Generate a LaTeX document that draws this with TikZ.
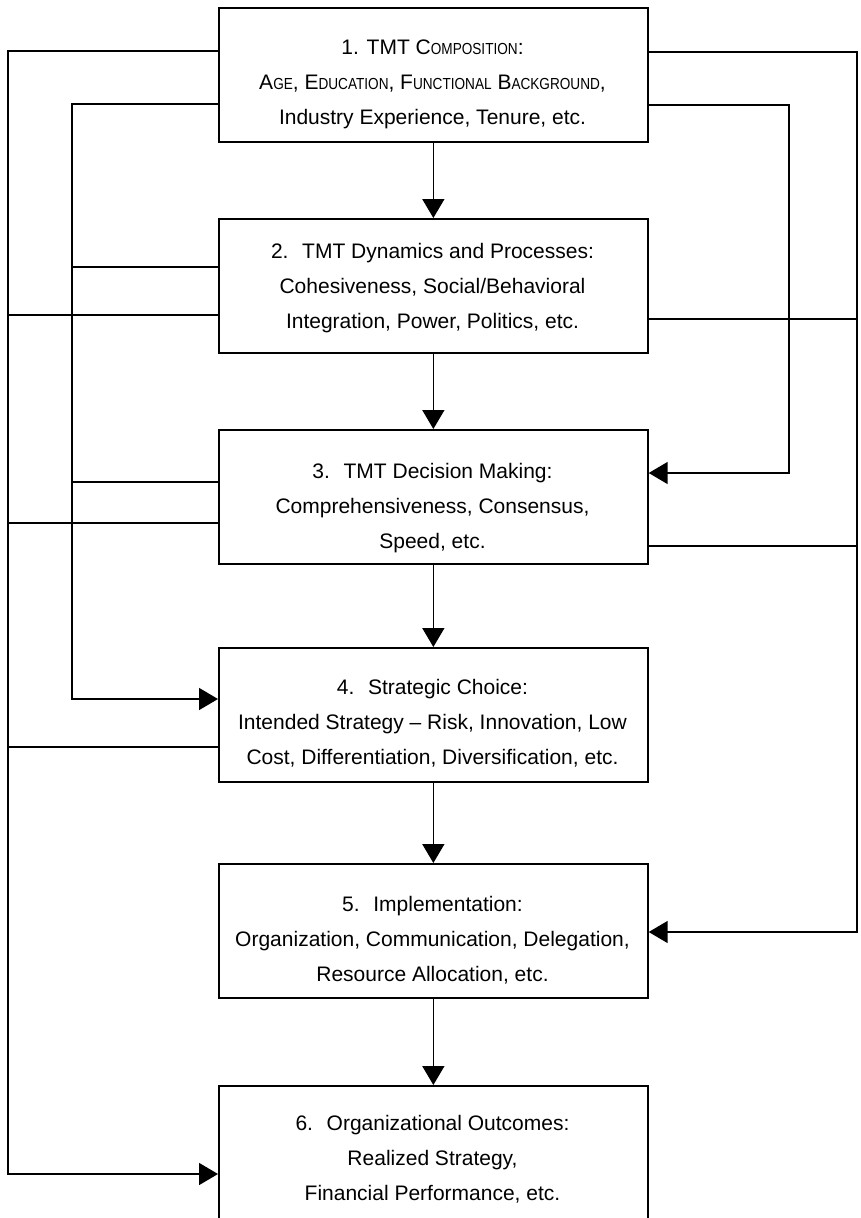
\documentclass[tikz,border=0pt]{standalone}
\usepackage{fontspec}
\setmainfont{Liberation Sans}
\usepackage{graphicx}
\usetikzlibrary{arrows.meta,calc}
\newcommand{\smc}[1]{\scalebox{0.85}[1]{\fontsize{16}{35}\selectfont #1}}
\begin{document}
\begin{tikzpicture}[x=1pt,y=-1pt,line width=1.6pt,
  box/.style={draw,line width=1.7pt,minimum width=429pt,minimum height=134pt,inner sep=0pt,anchor=north west},
  txt/.style={align=center,inner sep=0pt,font=\fontsize{21}{35}\selectfont},
  arr/.style={-{Triangle[length=19pt,width=22pt]}}]
\useasboundingbox (0,0) rectangle (860,1218);
% boxes
\node[box] (b1) at (218,7) {};
\node[box] (b2) at (218,218) {};
\node[box] (b3) at (218,429) {};
\node[box] (b4) at (218,647) {};
\node[box] (b5) at (218,863) {};
\node[box,minimum height=137pt] (b6) at (218,1085) {};
% texts
\node[txt] (t1) at (432.5,82) {\strut 1. TMT C\smc{OMPOSITION}:\\\strut A\smc{GE}, E\smc{DUCATION}, F\smc{UNCTIONAL} B\smc{ACKGROUND},\\\strut Industry Experience, Tenure, etc.\strut};
\node[txt] (t2) at (432.5,286) {\strut 2.~ TMT Dynamics and Processes:\\\strut Cohesiveness, Social/Behavioral\\\strut Integration, Power, Politics, etc.\strut};
\node[txt] (t3) at (432.5,506) {\strut 3.~ TMT Decision Making:\\\strut Comprehensiveness, Consensus,\\\strut Speed, etc.\strut};
\node[txt] (t4) at (432.5,722) {\strut 4.~ Strategic Choice:\\\strut Intended Strategy \textendash\ Risk, Innovation, Low\\\strut Cost, Differentiation, Diversification, etc.\strut};
\node[txt] (t5) at (432.5,939) {\strut 5.~ Implementation:\\\strut Organization, Communication, Delegation,\\\strut Resource Allocation, etc.\strut};
\node[txt] (t6) at (432.5,1158) {\strut 6.~ Organizational Outcomes:\\\strut Realized Strategy,\\\strut Financial Performance, etc.\strut};
% main chain
\draw[arr] (b1.south) -- (b2.north);
\draw[arr] (b2.south) -- (b3.north);
\draw[arr] (b3.south) -- (b4.north);
\draw[arr] (b4.south) -- (b5.north);
\draw[arr] (b5.south) -- (b6.north);
% bus corners
\coordinate (LO) at (8,1174);
\coordinate (LI) at (72,699);
\coordinate (RI) at (789,473);
\coordinate (RO) at (857,932);
% stub start points
\coordinate (p1LO) at ($(b1.north west)+(0,44)$);
\coordinate (p1LI) at ($(b1.north west)+(0,97)$);
\coordinate (p2LI) at ($(b2.north west)+(0,49)$);
\coordinate (p2LO) at ($(b2.north west)+(0,97)$);
\coordinate (p3LI) at ($(b3.north west)+(0,53)$);
\coordinate (p3LO) at ($(b3.north west)+(0,94)$);
\coordinate (p4LO) at ($(b4.north west)+(0,100)$);
\coordinate (p1RO) at ($(b1.north east)+(0,45)$);
\coordinate (p1RI) at ($(b1.north east)+(0,98)$);
\coordinate (p2RO) at ($(b2.north east)+(0,101)$);
\coordinate (p3RO) at ($(b3.north east)+(0,117)$);
% left outer bus
\draw[arr] (p1LO) -| (LO) -- (LO -| b6.west);
\draw (p2LO) -- (p2LO -| LO);
\draw (p3LO) -- (p3LO -| LO);
\draw (p4LO) -- (p4LO -| LO);
% left inner bus
\draw[arr] (p1LI) -| (LI) -- (LI -| b4.west);
\draw (p2LI) -- (p2LI -| LI);
\draw (p3LI) -- (p3LI -| LI);
% right inner bus
\draw[arr] (p1RI) -| (RI) -- (RI -| b3.east);
% right outer bus
\draw[arr] (p1RO) -| (RO) -- (RO -| b5.east);
\draw (p2RO) -- (p2RO -| RO);
\draw (p3RO) -- (p3RO -| RO);
\end{tikzpicture}
\end{document}
